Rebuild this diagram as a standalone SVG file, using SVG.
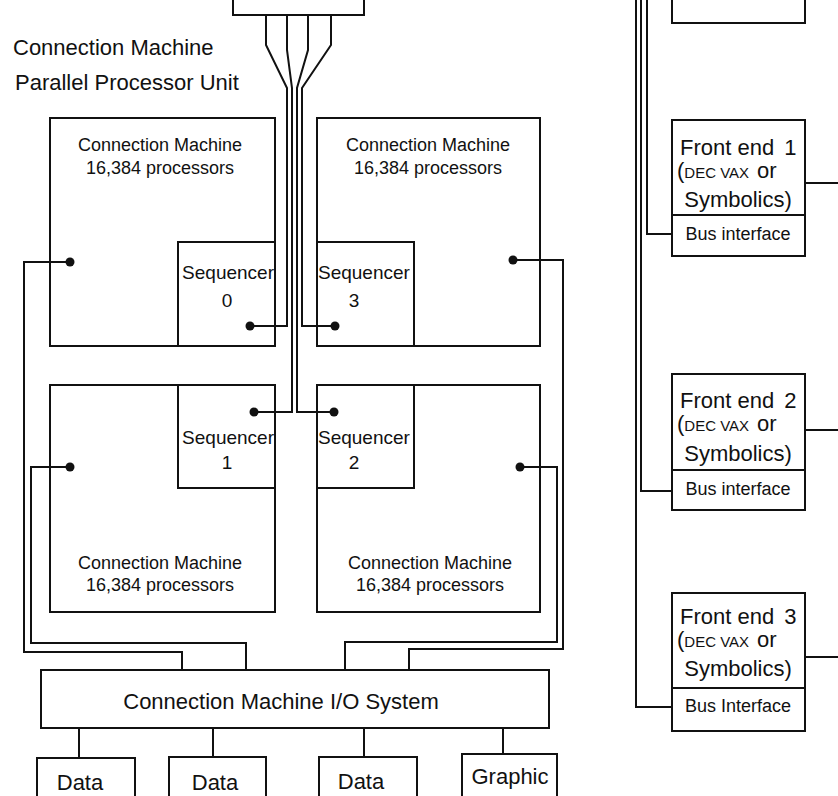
<svg xmlns="http://www.w3.org/2000/svg" width="838" height="796" viewBox="0 0 838 796">
<style>
.b{fill:none;stroke:#111;stroke-width:2}
.w{fill:none;stroke:#111;stroke-width:2;stroke-linejoin:miter}
.d{fill:#111}
text{font-family:"Liberation Sans",Arial,Helvetica,sans-serif;fill:#111}
.t22{font-size:22px}
.t18{font-size:18px}
.s19{font-size:19px}
.m{text-anchor:middle}
.e{text-anchor:end}
</style>
<rect width="838" height="796" fill="#fff"/>

<g id="title">
<text class="t22" x="13" y="55">Connection Machine</text>
<text class="t22" x="15" y="90">Parallel Processor Unit</text>
</g>

<g id="top-bus">
<path class="w" d="M233,0 V15 H364 V0"/>
</g>

<g id="cm0">
<rect class="b" x="50" y="118" width="225" height="228"/>
<text class="t18 m" x="160" y="151">Connection Machine</text>
<text class="t18 m" x="160" y="174">16,384 processors</text>
</g>
<g id="seq0">
<rect class="b" x="178" y="242" width="97" height="104"/>
<text class="s19 e" x="274" y="279">Sequencer</text>
<text class="s19 m" x="227" y="307">0</text>
</g>

<g id="cm3">
<rect class="b" x="317" y="118" width="223" height="228"/>
<text class="t18 m" x="428" y="151">Connection Machine</text>
<text class="t18 m" x="428" y="174">16,384 processors</text>
</g>
<g id="seq3">
<rect class="b" x="317" y="242" width="97" height="104"/>
<text class="s19" x="318" y="279">Sequencer</text>
<text class="s19 m" x="354" y="307">3</text>
</g>

<g id="cm1">
<rect class="b" x="50" y="385" width="225" height="227"/>
<text class="t18 m" x="160" y="569">Connection Machine</text>
<text class="t18 m" x="160" y="591">16,384 processors</text>
</g>
<g id="seq1">
<rect class="b" x="178" y="385" width="97" height="103"/>
<text class="s19 e" x="274" y="444">Sequencer</text>
<text class="s19 m" x="227" y="469">1</text>
</g>

<g id="cm2">
<rect class="b" x="317" y="385" width="223" height="227"/>
<text class="t18 m" x="430" y="569">Connection Machine</text>
<text class="t18 m" x="430" y="591">16,384 processors</text>
</g>
<g id="seq2">
<rect class="b" x="317" y="385" width="97" height="103"/>
<text class="s19" x="318" y="444">Sequencer</text>
<text class="s19 m" x="354" y="469">2</text>
</g>

<g id="io">
<rect class="b" x="41" y="670" width="508" height="58"/>
<text class="t22 m" x="281" y="709">Connection Machine I/O System</text>
</g>

<g id="data1">
<rect class="b" x="37" y="758" width="98" height="60"/>
<text class="t22 m" x="80" y="790">Data</text>
</g>
<g id="data2">
<rect class="b" x="169" y="757" width="97" height="60"/>
<text class="t22 m" x="215" y="790">Data</text>
</g>
<g id="data3">
<rect class="b" x="319" y="757" width="98" height="60"/>
<text class="t22 m" x="361" y="789">Data</text>
</g>
<g id="graphic">
<rect class="b" x="462" y="754" width="95" height="60"/>
<text class="t22 m" x="510" y="784">Graphic</text>
</g>

<g id="frontend0">
<rect class="b" x="672" y="-10" width="133" height="33"/>
</g>

<g id="frontend1">
<rect class="b" x="672" y="120" width="133" height="136"/>
<line class="b" x1="672" y1="215" x2="805" y2="215"/>
<text class="t22" x="680" y="155">Front end<tspan dx="10">1</tspan></text>
<text x="677" y="178"><tspan class="t22">(</tspan><tspan font-size="15">DEC VAX</tspan><tspan class="t22" dx="8">or</tspan></text>
<text class="t22 m" x="738" y="207">Symbolics)</text>
<text class="t18 m" x="738" y="240">Bus interface</text>
</g>

<g id="frontend2">
<rect class="b" x="672" y="374" width="133" height="136"/>
<line class="b" x1="672" y1="470" x2="805" y2="470"/>
<text class="t22" x="680" y="408">Front end<tspan dx="10">2</tspan></text>
<text x="677" y="431"><tspan class="t22">(</tspan><tspan font-size="15">DEC VAX</tspan><tspan class="t22" dx="8">or</tspan></text>
<text class="t22 m" x="738" y="461">Symbolics)</text>
<text class="t18 m" x="738" y="495">Bus interface</text>
</g>

<g id="frontend3">
<rect class="b" x="672" y="593" width="133" height="138"/>
<line class="b" x1="672" y1="688" x2="805" y2="688"/>
<text class="t22" x="680" y="624">Front end<tspan dx="10">3</tspan></text>
<text x="677" y="647"><tspan class="t22">(</tspan><tspan font-size="15">DEC VAX</tspan><tspan class="t22" dx="8">or</tspan></text>
<text class="t22 m" x="738" y="676">Symbolics)</text>
<text class="t18 m" x="738" y="712">Bus Interface</text>
</g>

<g id="connectors">
<path class="w" d="M266,15 V45 L287,88 V326 H250"/>
<path class="w" d="M287,15 V50 L292,88 V412 H254"/>
<path class="w" d="M308,15 V50 L297,88 V412 H334"/>
<path class="w" d="M331,15 V45 L302,88 V326 H335"/>
<path class="w" d="M70,262 H24 V652 H182 V670"/>
<path class="w" d="M70,467 H31 V643 H246 V670"/>
<path class="w" d="M513,260 H563 V649 H409 V670"/>
<path class="w" d="M520,467 H557 V642 H345 V670"/>
<path class="w" d="M79,728 V758"/>
<path class="w" d="M213,728 V757"/>
<path class="w" d="M364,728 V757"/>
<path class="w" d="M503,728 V754"/>
<path class="w" d="M647,0 V234 H672"/>
<path class="w" d="M641,0 V491 H672"/>
<path class="w" d="M636,0 V707 H672"/>
<path class="w" d="M805,183 H838"/>
<path class="w" d="M805,430 H838"/>
<path class="w" d="M805,657 H838"/>
<circle class="d" cx="250" cy="326" r="4.5"/>
<circle class="d" cx="254" cy="412" r="4.5"/>
<circle class="d" cx="334" cy="412" r="4.5"/>
<circle class="d" cx="335" cy="326" r="4.5"/>
<circle class="d" cx="70" cy="262" r="4.5"/>
<circle class="d" cx="70" cy="467" r="4.5"/>
<circle class="d" cx="513" cy="260" r="4.5"/>
<circle class="d" cx="520" cy="467" r="4.5"/>
</g>
</svg>
